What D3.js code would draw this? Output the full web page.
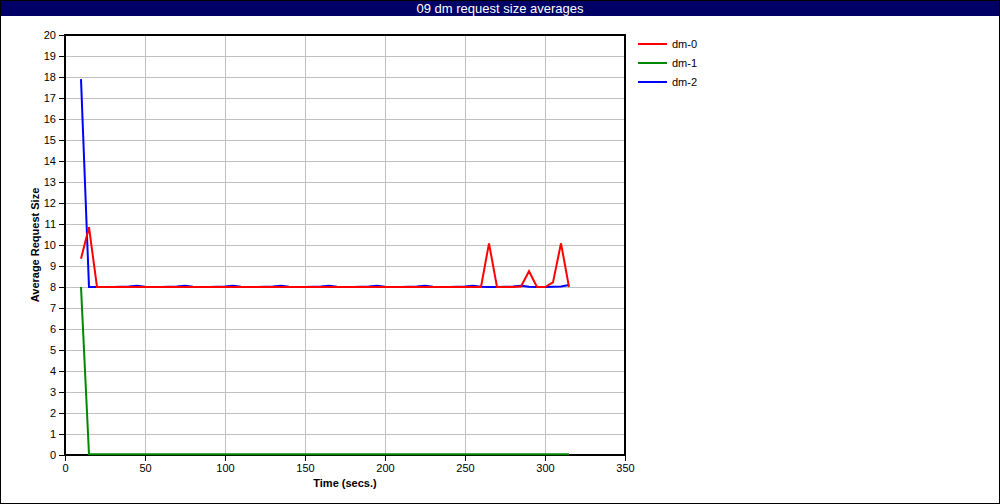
<!DOCTYPE html>
<html>
<head>
<meta charset="utf-8">
<script src="https://cdn.jsdelivr.net/npm/d3@7"></script>
<style>
html,body{margin:0;padding:0;background:#fff;}
svg{display:block;}
text{font-family:"Liberation Sans", Arial, sans-serif;}
</style>
</head>
<body>
<svg id="chart" width="1000" height="504"></svg>
<script>
const chartTitle = "09 dm request size averages";
const xLabel = "Time (secs.)";
const yLabel = "Average Request Size";
const seriesNames = ["dm-0", "dm-1", "dm-2"];
const seriesColors = ["#ff0000", "#008800", "#0000ff"];
const xTicks = [0, 50, 100, 150, 200, 250, 300, 350];
const yTicks = [0,1,2,3,4,5,6,7,8,9,10,11,12,13,14,15,16,17,18,19,20];

const times = [
  10, 15, 20, 25, 30, 35, 40, 45, 50, 55,
  60, 65, 70, 75, 80, 85, 90, 95, 100, 105,
  110, 115, 120, 125, 130, 135, 140, 145, 150, 155,
  160, 165, 170, 175, 180, 185, 190, 195, 200, 205,
  210, 215, 220, 225, 230, 235, 240, 245, 250, 255,
  260, 265, 270, 275, 280, 285, 290, 295, 300, 305,
  310, 315
];

const dm0 = [
  9.35, 10.85, 8.0, 8.0, 8.0, 8.0, 8.0, 8.0, 8.0, 8.0,
  8.0, 8.0, 8.0, 8.0, 8.0, 8.0, 8.0, 8.0, 8.0, 8.0,
  8.0, 8.0, 8.0, 8.0, 8.0, 8.0, 8.0, 8.0, 8.0, 8.0,
  8.0, 8.0, 8.0, 8.0, 8.0, 8.0, 8.0, 8.0, 8.0, 8.0,
  8.0, 8.0, 8.0, 8.0, 8.0, 8.0, 8.0, 8.0, 8.0, 8.0,
  8.0, 10.08, 8.0, 8.0, 8.0, 8.02, 8.75, 8.0, 8.0, 8.22,
  10.08, 8.0
];

const dm1 = [
  8.0, 0.03, 0.03, 0.03, 0.03, 0.03, 0.03, 0.03, 0.03, 0.03,
  0.03, 0.03, 0.03, 0.03, 0.03, 0.03, 0.03, 0.03, 0.03, 0.03,
  0.03, 0.03, 0.03, 0.03, 0.03, 0.03, 0.03, 0.03, 0.03, 0.03,
  0.03, 0.03, 0.03, 0.03, 0.03, 0.03, 0.03, 0.03, 0.03, 0.03,
  0.03, 0.03, 0.03, 0.03, 0.03, 0.03, 0.03, 0.03, 0.03, 0.03,
  0.03, 0.03, 0.03, 0.03, 0.03, 0.03, 0.03, 0.03, 0.03, 0.03,
  0.03, 0.03
];

const dm2 = [
  17.9, 8.0, 8.0, 8.0, 8.0, 8.01, 8.02, 8.06, 8.01, 8.0,
  8.0, 8.01, 8.02, 8.06, 8.01, 8.0, 8.0, 8.01, 8.02, 8.06,
  8.01, 8.0, 8.0, 8.01, 8.02, 8.06, 8.01, 8.0, 8.0, 8.01,
  8.02, 8.06, 8.01, 8.0, 8.0, 8.01, 8.02, 8.06, 8.01, 8.0,
  8.0, 8.01, 8.02, 8.06, 8.01, 8.0, 8.0, 8.01, 8.02, 8.06,
  8.01, 8.0, 8.0, 8.01, 8.02, 8.06, 8.01, 8.0, 8.0, 8.01,
  8.02, 8.1
];

const seriesValues = [dm0, dm1, dm2];

const W = 1000, H = 504;
const plot = {left: 65, right: 625, top: 35, bottom: 455};
const svg = d3.select("#chart");

// outer border
svg.append("rect").attr("x", 0.5).attr("y", 0.5).attr("width", W - 1).attr("height", H - 1)
  .attr("fill", "#fff").attr("stroke", "#000").attr("stroke-width", 1);

// title bar
svg.append("rect").attr("x", 1).attr("y", 1).attr("width", W - 2).attr("height", 15)
  .attr("fill", "#000066");
svg.append("text").attr("x", W / 2).attr("y", 12.5).attr("text-anchor", "middle")
  .attr("fill", "#fff").style("font-family", "'Liberation Sans Narrow','Liberation Sans',Arial,sans-serif")
  .attr("font-size", 13).text(chartTitle);

const x = d3.scaleLinear().domain([0, 350]).range([plot.left, plot.right]);
const y = d3.scaleLinear().domain([0, 20]).range([plot.bottom, plot.top]);

// grid
const grid = svg.append("g");
grid.selectAll(".gx").data(xTicks.slice(1, -1)).enter().append("line")
  .attr("x1", d => Math.round(x(d)) + 0.5).attr("x2", d => Math.round(x(d)) + 0.5)
  .attr("y1", plot.top).attr("y2", plot.bottom)
  .attr("stroke", "#c0c0c0").attr("stroke-width", 1);
grid.selectAll(".gy").data(yTicks.slice(1, -1)).enter().append("line")
  .attr("y1", d => Math.round(y(d)) + 0.5).attr("y2", d => Math.round(y(d)) + 0.5)
  .attr("x1", plot.left).attr("x2", plot.right)
  .attr("stroke", "#c0c0c0").attr("stroke-width", 1);

// axes
const xAxis = d3.axisBottom(x).tickValues(xTicks).tickSize(6).tickPadding(3).tickFormat(d3.format("d"));
const yAxis = d3.axisLeft(y).tickValues(yTicks).tickSize(6).tickPadding(3).tickFormat(d3.format("d"));
const gx = svg.append("g").attr("transform", `translate(0,${plot.bottom})`).call(xAxis);
const gy = svg.append("g").attr("transform", `translate(${plot.left},0)`).call(yAxis);
[gx, gy].forEach(g => {
  g.select(".domain").remove();
  g.selectAll(".tick line").attr("stroke", "#000").attr("stroke-width", 1);
  g.selectAll(".tick text").attr("fill", "#000").attr("font-size", 11)
    .style("font-family", "'Liberation Sans Narrow','Liberation Sans',Arial,sans-serif");
});

// frame
svg.append("rect").attr("x", plot.left).attr("y", plot.top)
  .attr("width", plot.right - plot.left).attr("height", plot.bottom - plot.top)
  .attr("fill", "none").attr("stroke", "#000").attr("stroke-width", 2);

// lines (draw blue, green, then red on top)
const line = d3.line().x((d, i) => x(times[i])).y(d => y(d));
const order = [2, 1, 0];
order.forEach(k => {
  svg.append("path").datum(seriesValues[k])
    .attr("fill", "none").attr("stroke", seriesColors[k]).attr("stroke-width", 2)
    .attr("stroke-linejoin", "miter").attr("d", line);
});

// axis titles
svg.append("text").attr("x", (plot.left + plot.right) / 2).attr("y", 487)
  .attr("text-anchor", "middle").attr("font-size", 11).attr("font-weight", "bold").text(xLabel);
svg.append("text").attr("transform", `translate(39,${(plot.top + plot.bottom) / 2}) rotate(-90)`)
  .attr("text-anchor", "middle").attr("font-size", 11).attr("font-weight", "bold").text(yLabel);

// legend
const legend = svg.append("g");
seriesNames.forEach((name, i) => {
  const ly = 44 + i * 19;
  legend.append("line").attr("x1", 638).attr("x2", 667).attr("y1", ly).attr("y2", ly)
    .attr("stroke", seriesColors[i]).attr("stroke-width", 2);
  legend.append("text").attr("x", 672).attr("y", ly + 4).attr("font-size", 11).text(name);
});
</script>
</body>
</html>
